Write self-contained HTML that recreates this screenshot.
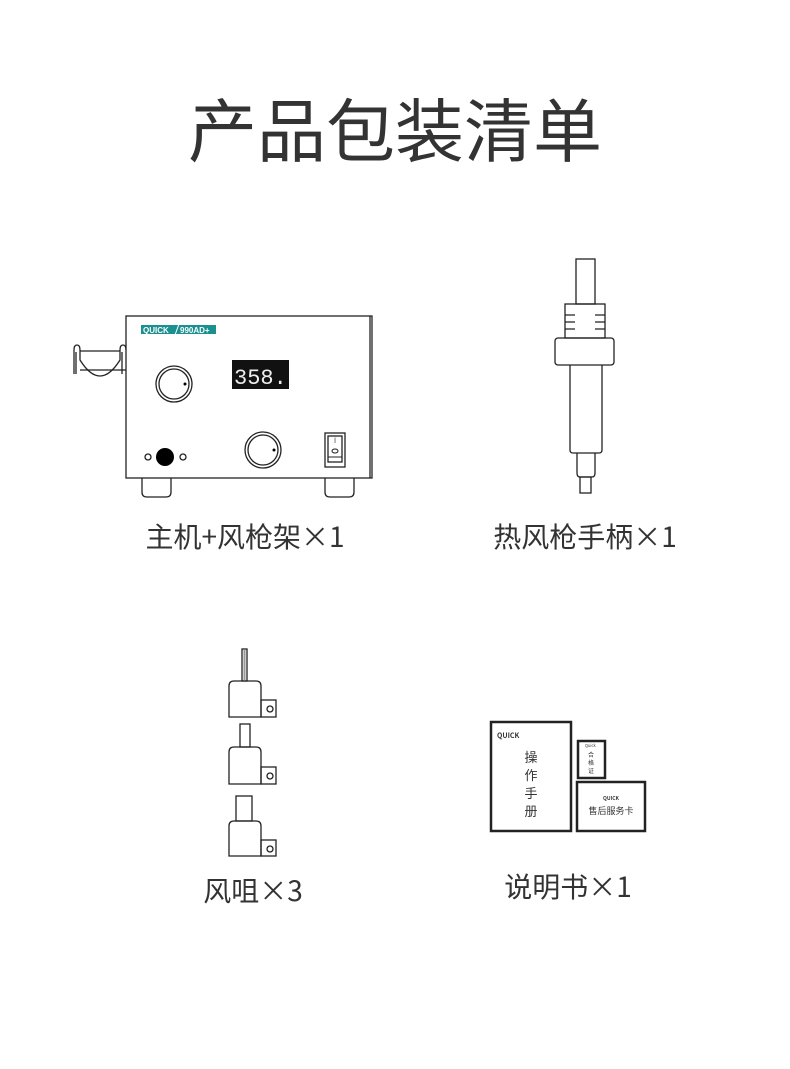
<!DOCTYPE html>
<html><head><meta charset="utf-8"><style>
body{margin:0;background:#fff;}
svg text{font-family:"Noto Sans CJK SC","Liberation Sans",sans-serif;fill:#333;}
</style></head><body>
<svg width="790" height="1064" viewBox="0 0 790 1064" xmlns="http://www.w3.org/2000/svg">
<text x="395" y="156" font-size="69" text-anchor="middle" font-weight="400">产品包装清单</text>
<g fill="none" stroke="#222" stroke-width="1.3">
<!-- holder -->
<path d="M74 374 V350 Q74 345 77 345 Q80 345 80 350 V360 Q100 392 120 360 V350 Q120 345 123 345 Q126 345 126 350"/>
<path d="M76 374 V352 M122 374 V352"/>
<line x1="80" y1="351" x2="120" y2="351"/><line x1="80" y1="370" x2="126" y2="370"/>
<!-- box -->
<rect x="126" y="316" width="246" height="162" fill="#fff"/>
<line x1="370" y1="316" x2="370" y2="478"/>
<circle cx="174" cy="384" r="18"/><circle cx="174" cy="384" r="15"/>
<circle cx="263" cy="450" r="18"/><circle cx="263" cy="450" r="15"/>
<circle cx="148" cy="457" r="3"/><circle cx="183" cy="457" r="3"/>
<rect x="325" y="433" width="20" height="34"/><rect x="328" y="436" width="14" height="26"/>
<path d="M142 478 V492 Q142 497 147 497 H166 Q171 497 171 492 V478"/>
<path d="M325 478 V492 Q325 497 330 497 H349 Q354 497 354 492 V478"/>
<!-- handle -->
<rect x="576" y="259" width="19" height="45"/>
<rect x="565" y="304" width="40" height="34"/>
<path d="M565 315 h10 M565 322 h10 M565 329 h10 M595 315 h10 M595 322 h10 M595 329 h10"/>
<rect x="555" y="338" width="59" height="27" rx="3"/>
<path d="M570 365 V450 Q570 453 573 453 H599 Q602 453 602 450 V365"/>
<path d="M577 453 V473 Q577 477 580 477 H592 Q595 477 595 473 V453"/>
<rect x="580" y="477" width="11" height="16"/>
<!-- nozzles -->
<rect x="242" y="649" width="5" height="32"/>
<path d="M229 717 V686 Q229 681 234 681 H256 Q261 681 261 686 V717 Z"/>
<rect x="261" y="700" width="15" height="17"/><circle cx="270" cy="709" r="3"/>
<rect x="240" y="724" width="10" height="23"/>
<path d="M229 784 V752 Q229 747 234 747 H256 Q261 747 261 752 V784 Z"/>
<rect x="261" y="767" width="15" height="17"/><circle cx="270" cy="776" r="3"/>
<rect x="236" y="796" width="16" height="25"/>
<path d="M229 856 V826 Q229 821 234 821 H256 Q261 821 261 826 V856 Z"/>
<rect x="261" y="840" width="15" height="16"/><circle cx="270" cy="849" r="3"/>
</g>
<line x1="244.5" y1="650" x2="244.5" y2="680" stroke="#999" stroke-width="2"/>
<!-- logo, display, dot -->
<rect x="141" y="325" width="75" height="9" fill="#1a9090"/>
<text x="143" y="333" font-size="8" font-weight="bold" style="fill:#fff;font-family:'Liberation Sans',sans-serif">QUICK</text>
<text x="180" y="333" font-size="8" font-weight="bold" style="fill:#fff;font-family:'Liberation Sans',sans-serif">990AD+</text>
<line x1="175" y1="335" x2="179" y2="324" stroke="#fff" stroke-width="1"/>
<rect x="232" y="360" width="57" height="29" fill="#111"/>
<text x="234" y="384" font-size="22" style="fill:#eee;font-family:'Liberation Mono',monospace">358.</text>
<circle cx="165" cy="457" r="9" fill="#000"/>
<circle cx="185" cy="384" r="1.5" fill="#000"/><circle cx="274" cy="450" r="1.5" fill="#000"/>
<text x="335" y="443" font-size="7" text-anchor="middle">I</text>
<ellipse cx="335" cy="451" rx="3" ry="2" fill="none" stroke="#222"/>
<line x1="328" y1="457" x2="342" y2="457" stroke="#222"/>
<!-- manuals -->
<g fill="#fff" stroke="#222" stroke-width="2.5">
<rect x="491" y="722" width="80" height="109"/>
<rect x="578" y="741" width="27" height="37"/>
<rect x="577" y="782" width="68" height="49"/>
</g>
<text x="497" y="738" font-size="7" font-weight="bold">QUICK</text>
<g font-size="13" text-anchor="middle"><text x="531" y="762">操</text><text x="531" y="780">作</text><text x="531" y="798">手</text><text x="531" y="816">册</text></g>
<text x="585" y="747" font-size="4">Quick</text>
<g font-size="6" text-anchor="middle"><text x="591" y="757">合</text><text x="591" y="765">格</text><text x="591" y="773">证</text></g>
<text x="611" y="800" font-size="5" text-anchor="middle" font-weight="bold">QUICK</text>
<text x="611" y="814" font-size="9" text-anchor="middle">售后服务卡</text>
<!-- labels -->
<g font-size="28" text-anchor="middle" font-weight="400">
<text x="245" y="547">主机+风枪架×1</text>
<text x="585" y="547">热风枪手柄×1</text>
<text x="253" y="901">风咀×3</text>
<text x="568" y="897">说明书×1</text>
</g>
</svg>
</body></html>
